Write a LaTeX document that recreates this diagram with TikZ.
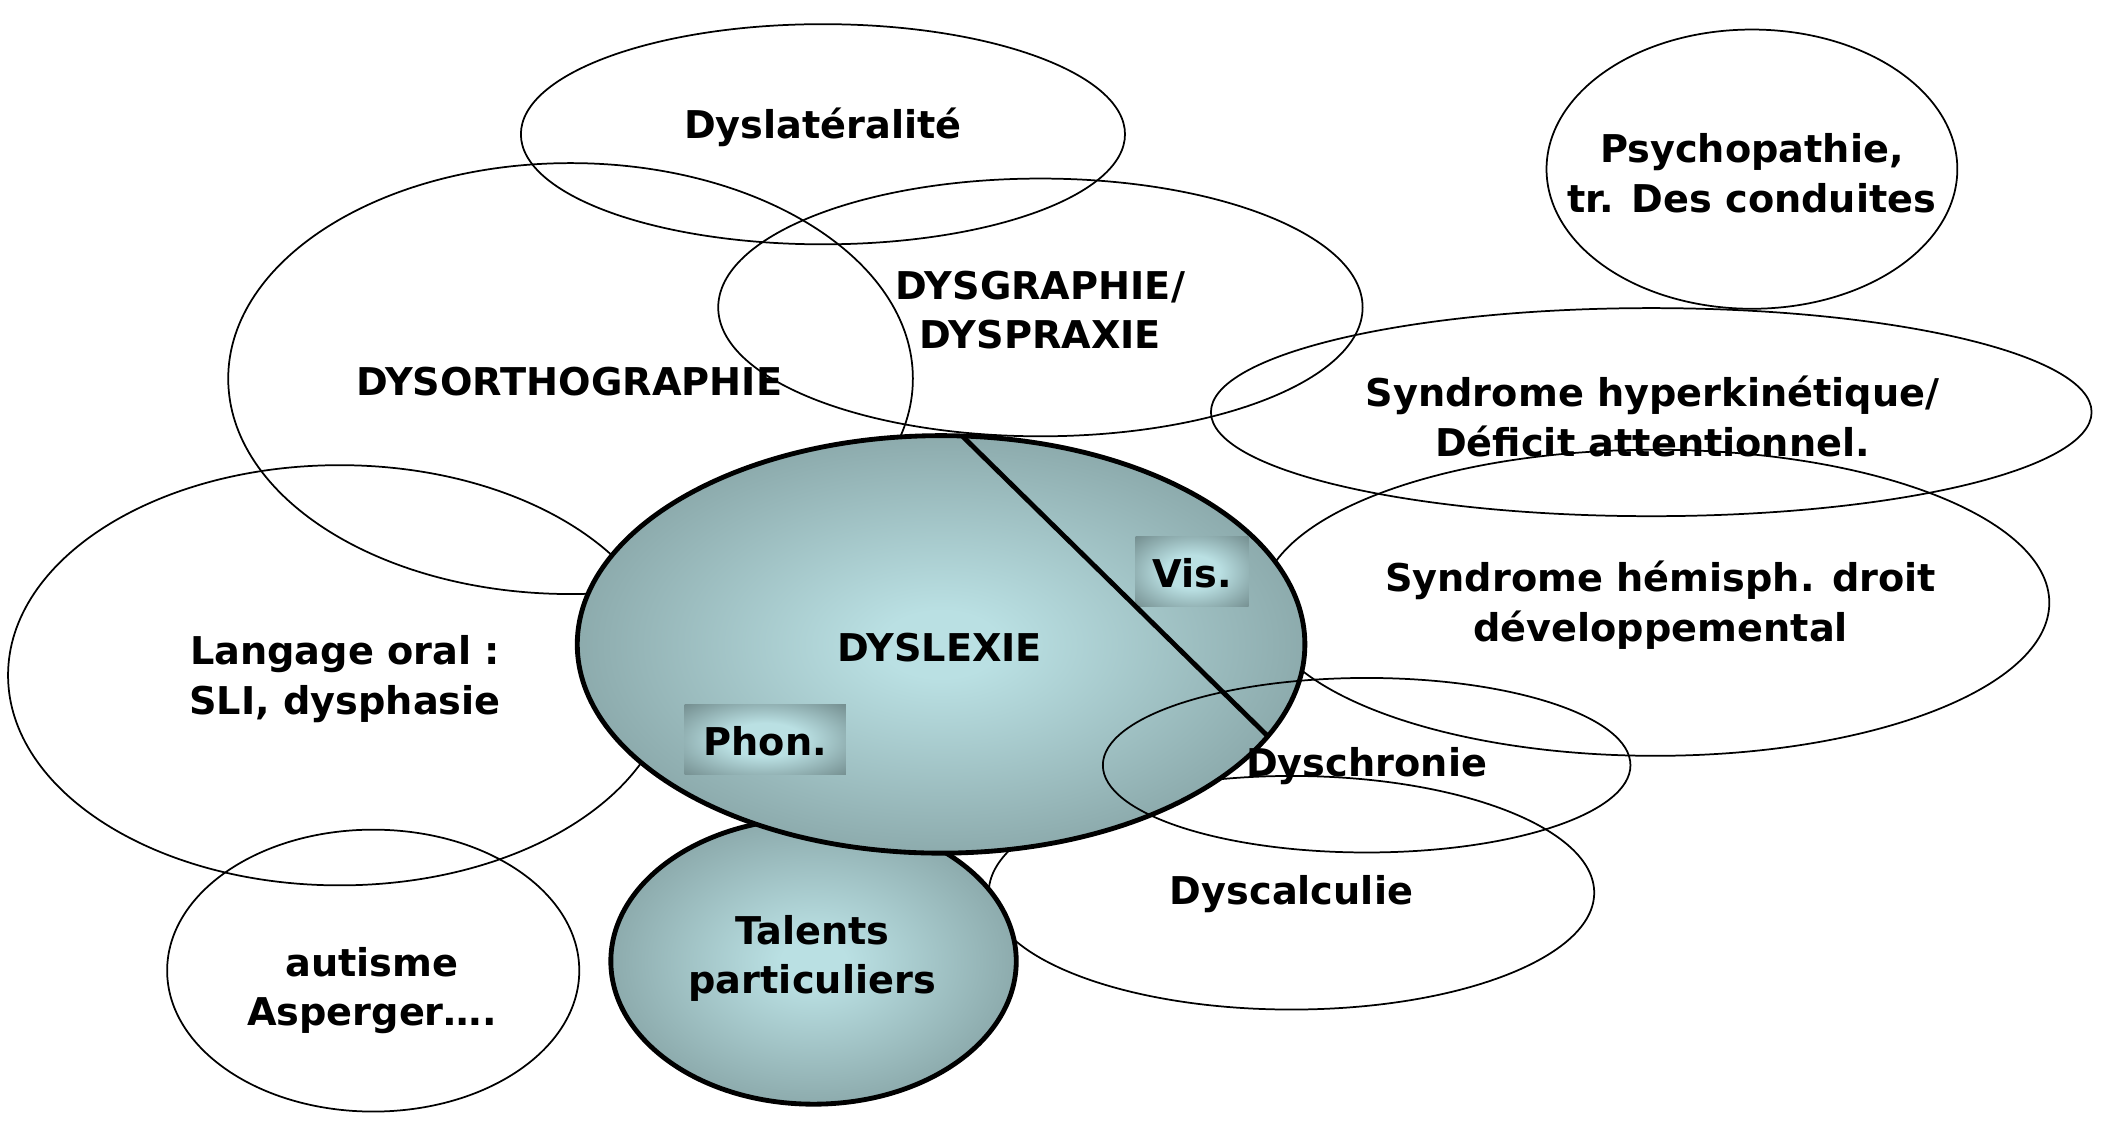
\documentclass[tikz,border=0pt]{standalone}
\usepackage{fontspec}
\setmainfont{DejaVu Sans}
\usetikzlibrary{shapes.geometric}
\definecolor{dyin}{RGB}{186,224,227}
\definecolor{dyout}{RGB}{104,128,129}
\pgfdeclareradialshading{dysshade}{\pgfpoint{0bp}{0bp}}{color(0bp)=(dyin); color(4bp)=(dyin); color(42bp)=(dyout); color(72bp)=(dyout)}
\pgfdeclareradialshading{boxshade}{\pgfpoint{0bp}{0bp}}{color(0bp)=(dyin); color(12bp)=(dyin); color(40bp)=(dyout); color(72bp)=(dyout)}
\tikzset{
  ell/.style={ellipse, draw=black, line width=1.3pt, inner sep=0pt, outer sep=0pt},
  bigell/.style={ellipse, draw=black, line width=3.6pt, inner sep=0pt, outer sep=0pt, shading=dysshade},
  softbox/.style={rectangle, inner sep=0pt, outer sep=0pt, shading=boxshade},
  lbl/.style={font=\bfseries\fontsize{28.5}{37}\selectfont, align=center, inner sep=0pt},
  divline/.style={line width=3.6pt}
}
\begin{document}
\begin{tikzpicture}[x=1pt,y=-1pt]
\useasboundingbox[fill=white] (0,0) rectangle (1568,840);
% thin ellipses
\node[ell, minimum width=450pt, minimum height=164pt] (dyslat) at (613,100) {};
\node[ell, minimum width=510pt, minimum height=321pt] (dysorth) at (425,282) {};
\node[ell, minimum width=480pt, minimum height=192pt] (dysgraph) at (775,229) {};
\node[ell, minimum width=306pt, minimum height=208pt] (psycho) at (1305,126) {};
\node[ell, minimum width=656pt, minimum height=155pt] (hyper) at (1230,307) {};
\node[ell, minimum width=587pt, minimum height=228pt] (hemis) at (1233,449) {};
\node[ell, minimum width=494pt, minimum height=313pt] (langage) at (253,503) {};
\node[ell, minimum width=451pt, minimum height=174pt] (dyscalc) at (962,665) {};
\node[ell, minimum width=307pt, minimum height=210pt] (autisme) at (278,723) {};
% shaded ellipses
\node[bigell, minimum width=302pt, minimum height=213pt] (talents) at (606,716) {};
\node[bigell, minimum width=542pt, minimum height=311pt] (dyslexie) at (701,480) {};
% boxes
\node[softbox, minimum width=84pt, minimum height=52pt] (visbox) at (888,426) {};
\node[softbox, minimum width=120pt, minimum height=52pt] (phonbox) at (570,551) {};
% dyschronie ellipse on top
\node[ell, minimum width=393pt, minimum height=130pt] (dyschro) at (1018,570) {};
% dividing line
\coordinate (d1) at (717,325);
\coordinate (d2) at (944,548);
\draw[divline] (d1) -- (d2);
% labels
\node[lbl] (t1) at (613,95) {Dyslatéralité};
\node[lbl] (t2) at (1305,129) {Psychopathie,\\tr. Des conduites};
\node[lbl] (t3) at (775,231) {DYSGRAPHIE/\\DYSPRAXIE};
\node[lbl] (t4) at (424,284) {DYSORTHOGRAPHIE};
\node[lbl] (t5) at (1231,310) {Syndrome hyperkinétique/\\Déficit attentionnel.};
\node[lbl] (t6) at (1237,451) {Syndrome hémisph. droit\\développemental};
\node[lbl] (t7) at (257,506) {Langage oral :\\SLI, dysphasie};
\node[lbl] (t8) at (700,482) {DYSLEXIE};
\node[lbl] (t9) at (888,427) {Vis.};
\node[lbl] (t10) at (570,552) {Phon.};
\node[lbl] (t11) at (1018,571) {Dyschronie};
\node[lbl] (t12) at (962,666) {Dyscalculie};
\node[lbl] (t13) at (605,714) {Talents\\particuliers};
\node[lbl] (t14) at (277,738) {autisme\\Asperger….};
\end{tikzpicture}
\end{document}
